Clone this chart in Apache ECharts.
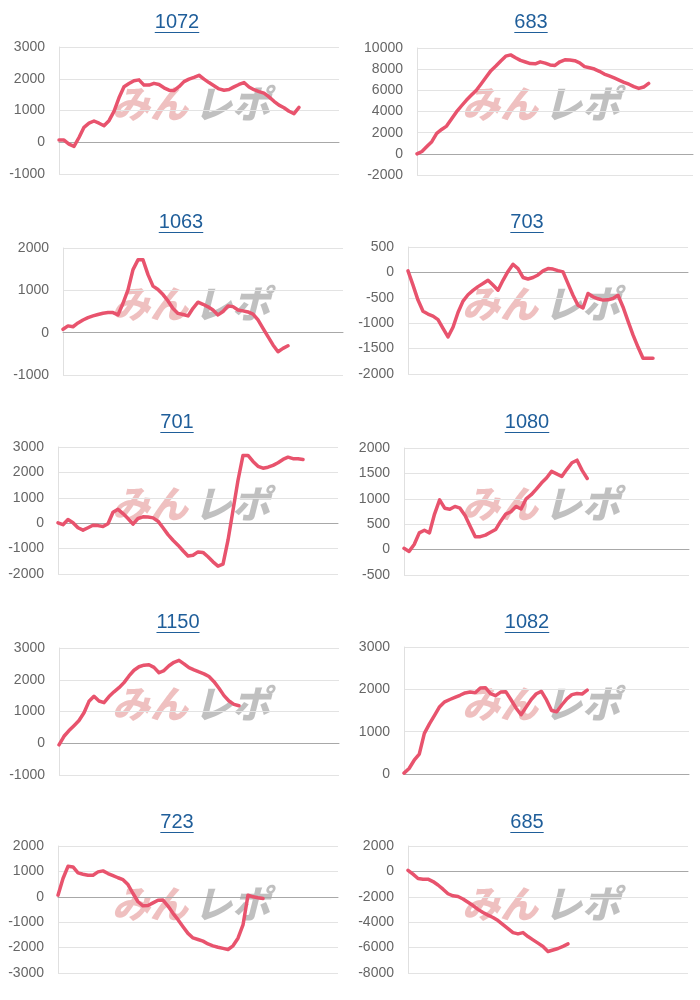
<!DOCTYPE html>
<html><head><meta charset="utf-8">
<script src="https://cdn.jsdelivr.net/npm/echarts@6/dist/echarts.min.js"></script>
<style>html,body{margin:0;padding:0;background:#fff}#c{width:700px;height:1000px}</style>
</head><body><div id="c"></div>
<script>
// ---- data ----
const titles = ['1072', '683', '1063', '703', '701', '1080', '1150', '1082', '723', '685'];

const s1072 = [70, 70, -60, -130, 150, 470, 600, 670, 600, 520, 680, 970, 1400, 1750, 1850, 1940, 1965, 1800, 1800, 1855, 1820, 1715, 1640, 1630, 1750, 1910, 1990, 2045, 2110, 1990, 1880, 1780, 1680, 1640, 1660, 1745, 1820, 1880, 1740, 1655, 1595, 1545, 1430, 1290, 1170, 1085, 975, 900, 1100];
const s683 = [0, 220, 690, 1150, 1930, 2300, 2620, 3300, 3960, 4520, 5060, 5530, 5990, 6600, 7230, 7860, 8300, 8780, 9230, 9350, 9080, 8830, 8680, 8530, 8510, 8690, 8570, 8400, 8350, 8700, 8880, 8870, 8800, 8600, 8240, 8130, 8010, 7800, 7540, 7360, 7170, 6970, 6760, 6580, 6350, 6180, 6310, 6650];
const s1063 = [80, 160, 140, 230, 300, 355, 395, 430, 460, 475, 475, 420, 695, 1010, 1490, 1720, 1720, 1370, 1100, 1020, 900, 750, 570, 455, 430, 395, 575, 720, 670, 610, 535, 420, 500, 630, 615, 535, 515, 490, 440, 300, 100, -95, -290, -450, -370, -310];
const s703 = [30, -250, -545, -765, -820, -860, -930, -1100, -1270, -1080, -790, -565, -440, -355, -280, -220, -155, -250, -350, -155, 20, 160, 75, -100, -130, -100, -50, 30, 75, 65, 35, 10, -220, -450, -645, -700, -415, -480, -520, -545, -540, -515, -450, -680, -960, -1230, -1470, -1690, -1690, -1690];
const s701 = [15, -60, 145, 20, -180, -275, -180, -80, -95, -130, -20, 430, 545, 380, 185, -40, 185, 250, 240, 210, 80, -180, -450, -670, -865, -1085, -1290, -1260, -1130, -1150, -1320, -1520, -1690, -1610, -670, 510, 1690, 2670, 2670, 2430, 2240, 2165, 2205, 2275, 2380, 2510, 2600, 2540, 2540, 2510];
const s1080 = [25, -35, 100, 330, 380, 330, 700, 980, 815, 795, 850, 815, 670, 460, 255, 255, 285, 340, 395, 560, 700, 745, 850, 800, 1000, 1080, 1190, 1310, 1410, 1540, 1490, 1440, 1580, 1710, 1760, 1560, 1400];
const s1150 = [-50, 220, 400, 555, 715, 960, 1320, 1480, 1330, 1280, 1470, 1620, 1750, 1910, 2120, 2300, 2410, 2460, 2475, 2390, 2220, 2290, 2440, 2550, 2610, 2500, 2380, 2310, 2245, 2185, 2100, 1940, 1730, 1500, 1330, 1225, 1180];
const s1082 = [20, 130, 325, 470, 960, 1185, 1385, 1590, 1705, 1760, 1810, 1860, 1915, 1935, 1920, 2030, 2040, 1900, 1850, 1935, 1945, 1760, 1560, 1400, 1580, 1760, 1895, 1950, 1750, 1500, 1470, 1630, 1775, 1875, 1900, 1890, 1980];
const s723 = [65, 720, 1200, 1175, 940, 890, 850, 850, 980, 1020, 915, 835, 750, 675, 480, 130, -195, -355, -345, -240, -135, -130, -365, -650, -900, -1175, -1440, -1620, -1680, -1745, -1855, -1930, -1985, -2030, -2075, -1930, -1630, -1110, 65, 0, -40, -65];
const s685 = [90, -220, -560, -610, -610, -800, -1070, -1400, -1760, -1920, -1980, -2170, -2430, -2690, -2990, -3230, -3440, -3630, -3870, -4190, -4510, -4820, -4920, -4820, -5130, -5390, -5650, -5910, -6310, -6190, -6070, -5900, -5710];

const yMins = [-1000, -2000, -1000, -2000, -2000, -500, -1000, 0, -3000, -8000];
const yMaxs = [3000, 10000, 2000, 500, 3000, 2000, 3000, 3000, 2000, 2000];
const yIntervals = [1000, 2000, 1000, 500, 1000, 500, 1000, 1000, 1000, 2000];
const SLOTS = 57; // x-axis slots per chart
const xCategories = Array.from({length: SLOTS}, (_, i) => String(i + 1));

const seriesData = [s1072, s683, s1063, s703, s701, s1080, s1150, s1082, s723, s685];

// ---- layout ----
const grids = [
  {left: 59, top: 47, width: 280, height: 127},
  {left: 417, top: 48, width: 276, height: 127},
  {left: 63, top: 248, width: 280, height: 127},
  {left: 408, top: 247, width: 280, height: 127},
  {left: 58, top: 447, width: 280, height: 127},
  {left: 404, top: 448, width: 285, height: 127},
  {left: 59, top: 648, width: 280, height: 127},
  {left: 404, top: 647, width: 285, height: 127},
  {left: 58, top: 846, width: 280, height: 127},
  {left: 408, top: 846, width: 280, height: 127}
];
const titleCenters = [177, 181, 181, 177, 177, 177, 178, 177, 177, 177];
const TITLE_COLOR = '#1f5e9a';
const LINE_COLOR = '#e8536d';
const FONT = '"Liberation Sans", Arial, sans-serif';
const WM_FONT = 'italic 900 38px "Noto Sans CJK JP"';

const cv = document.createElement('canvas').getContext('2d');
cv.font = '20px ' + FONT;

const title = [], grid = [], xAxis = [], yAxis = [], series = [], graphic = [];
titles.forEach((t, k) => {
  const col = k % 2, row = Math.floor(k / 2);
  const cx = col * 350 + titleCenters[k], cy = row * 200;
  const w = cv.measureText(t).width;
  title.push({
    text: t, left: cx - w / 2, top: cy + 12, padding: 0,
    textStyle: {color: TITLE_COLOR, fontSize: 20, fontWeight: 'normal', fontFamily: FONT}
  });
  graphic.push({type: 'rect', shape: {x: cx - w / 2, y: cy + 32, width: w, height: 1}, style: {fill: TITLE_COLOR}, z: 5});
  // watermark
  graphic.push({type: 'text', x: col * 350 + 112, y: cy + 104, z: 0,
    style: {text: 'みん', fill: 'rgba(225,140,140,0.55)', font: WM_FONT, textVerticalAlign: 'middle'}});
  graphic.push({type: 'text', x: col * 350 + 194, y: cy + 104, z: 0,
    style: {text: 'レポ', fill: 'rgba(150,150,150,0.6)', font: WM_FONT, textVerticalAlign: 'middle'}});

  grid.push(Object.assign({containLabel: false}, grids[k]));
  xAxis.push({
    type: 'category', gridIndex: k, data: xCategories, boundaryGap: false,
    axisLine: {show: true, onZero: true, lineStyle: {color: '#a8a8a8', width: 1}},
    axisTick: {show: false}, axisLabel: {show: false}, splitLine: {show: false}
  });
  yAxis.push({
    type: 'value', gridIndex: k, min: yMins[k], max: yMaxs[k], interval: yIntervals[k],
    axisLine: {show: true, lineStyle: {color: '#e0e0e0'}},
    axisTick: {show: false},
    axisLabel: {color: '#666', fontSize: 14, fontFamily: FONT, margin: 14, formatter: v => String(v)},
    splitLine: {lineStyle: {color: '#e3e3e3', width: 1}}
  });
  series.push({
    type: 'line', xAxisIndex: k, yAxisIndex: k, data: seriesData[k],
    showSymbol: false, symbol: 'none', smooth: false, z: 3,
    lineStyle: {color: LINE_COLOR, width: 3.5, join: 'round', cap: 'round'},
    animation: false
  });
});

const chart = echarts.init(document.getElementById('c'), null, {renderer: 'canvas'});
chart.setOption({animation: false, backgroundColor: '#fff', title, grid, xAxis, yAxis, series, graphic});
</script>
</body></html>
